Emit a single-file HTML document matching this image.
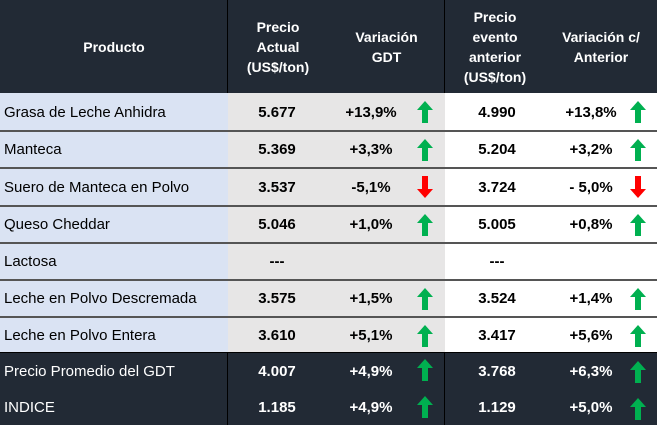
<!DOCTYPE html>
<html><head><meta charset="utf-8"><style>
body{margin:0;width:657px;height:425px;overflow:hidden;background:#fff;font-family:"Liberation Sans",sans-serif;}
#t{position:relative;width:657px;height:425px;}
.a{position:absolute;box-sizing:border-box;}
.h{color:#fff;font-weight:bold;font-size:14px;text-align:center;line-height:20px;display:flex;align-items:center;justify-content:center;}
.c{display:flex;align-items:center;font-size:15px;}
.n{justify-content:center;font-weight:bold;}
svg{position:absolute;}
</style></head><body>
<div id="t"></div>
<script>
const products=["Grasa de Leche Anhidra","Manteca","Suero de Manteca en Polvo","Queso Cheddar","Lactosa","Leche en Polvo Descremada","Leche en Polvo Entera","Precio Promedio del GDT","INDICE"];
const prices=["5.677","5.369","3.537","5.046","---","3.575","3.610","4.007","1.185"];
const varGDT=["+13,9%","+3,3%","-5,1%","+1,0%","","+1,5%","+5,1%","+4,9%","+4,9%"];
const prevPrices=["4.990","5.204","3.724","5.005","---","3.524","3.417","3.768","1.129"];
const varPrev=["+13,8%","+3,2%","- 5,0%","+0,8%","","+1,4%","+5,6%","+6,3%","+5,0%"];
const t=document.getElementById('t');
const rowY=[93,131,168,206,243,280,317,353,390,425];
function div(x,y,w,h,cls,html,bg,name){const d=document.createElement('div');d.className='a '+cls;
d.style.cssText=`left:${x}px;top:${y}px;width:${w}px;height:${h}px;`+(bg?`background:${bg};`:'');
d.innerHTML=html;


t.appendChild(d);return d;}
div(0,0,657,93,'','', '#222a35','header-bg');
div(0,0,228,93,'h','Producto','', 'header-producto');
div(228,0,100,93,'h','Precio<br>Actual<br>(US$/ton)','', 'header-precio-actual');
div(328,0,117,93,'h','Variación<br>GDT','', 'header-variacion-gdt');
div(445,0,100,93,'h','Precio<br>evento<br>anterior<br>(US$/ton)','', 'header-precio-anterior');
div(545,0,112,93,'h','Variación c/<br>Anterior','', 'header-variacion-anterior');
div(227,0,1,93,'','','#000','header-divider-1');
div(444,0,1,93,'','','#000','header-divider-2');
function arrow(x,y,up){const s=document.createElementNS('http://www.w3.org/2000/svg','svg');
s.setAttribute('width','16');s.setAttribute('height','22');s.style.left=x+'px';s.style.top=y+'px';
const p=document.createElementNS('http://www.w3.org/2000/svg','polygon');
p.setAttribute('points',up?'8,0 16,9 11,9 11,22 5,22 5,9 0,9':'5,0 11,0 11,13 16,13 8,22 0,13 5,13');
p.setAttribute('fill',up?'#00b050':'#ff0000');s.appendChild(p);


t.appendChild(s);}
for(let i=0;i<products.length;i++){
 const y=rowY[i],h=rowY[i+1]-y,dark=i>=7;
 const col=dark?'#fff':'#000';
 div(0,y,228,h,'c','<span style="padding-left:4px;color:'+col+'">'+products[i]+'</span>',dark?'#222a35':'#dae3f3','product-'+i);
 div(228,y,217,h,'','',dark?'#222a35':'#e7e6e6','current-bg-'+i);
 div(445,y,212,h,'','',dark?'#222a35':'#fff','previous-bg-'+i);
 div(228,y,98,h,'c n','<span style="color:'+col+'">'+prices[i]+'</span>','','price-'+i);
 div(326,y,90,h,'c n','<span style="color:'+col+'">'+varGDT[i]+'</span>','','var-gdt-'+i);
 div(445,y,104,h,'c n','<span style="color:'+col+'">'+prevPrices[i]+'</span>','','prev-price-'+i);
 div(549,y,84,h,'c n','<span style="color:'+col+'">'+varPrev[i]+'</span>','','var-prev-'+i);
 if(varGDT[i]){const up=varGDT[i].trim()[0]!=='-';arrow(417,y+(dark?6:8),up);}
 if(varPrev[i]){const up=varPrev[i].trim()[0]!=='-';arrow(630,y+(dark?8:8),up);}
 if(i<7&&i>0)div(0,y-1,657,2,'','','#555','row-line-'+i);
}
div(0,352,657,1,'','','#000','dark-top-line');
div(227,353,1,72,'','','#000','footer-divider-1');
div(444,353,1,72,'','','#000','footer-divider-2');
</script>
</body></html>
